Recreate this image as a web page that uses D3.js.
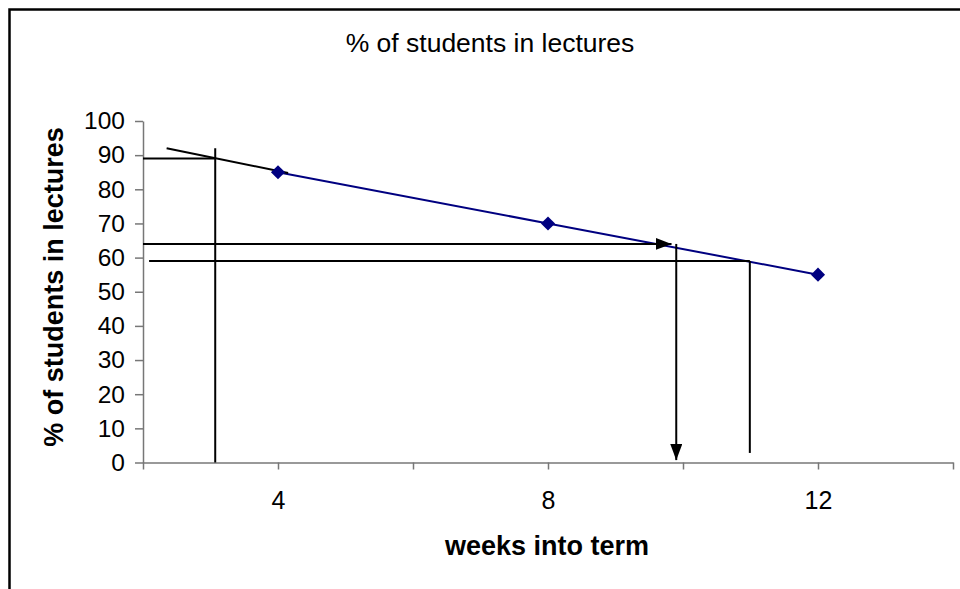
<!DOCTYPE html>
<html>
<head>
<meta charset="utf-8">
<script src="https://cdn.jsdelivr.net/npm/d3@7"></script>
<style>
  html, body { margin: 0; padding: 0; background: #fff; }
  svg { display: block; font-family: "Liberation Sans", Arial, sans-serif; }
</style>
</head>
<body>
<svg id="chart" width="960" height="589"></svg>
<script>
// Attendance observed at weeks 4, 8 and 12
const weeks = [4, 8, 12];
const attendance = [85, 70, 55];

// Axis ticks
const xTickValues = [2, 4, 6, 8, 10, 12, 14];
const xTickLabels = [4, 8, 12];
const yTickValues = [0, 10, 20, 30, 40, 50, 60, 70, 80, 90, 100];

// Hand-drawn reading lines, in (week, %) units
const trendExtension = [[2.35, 92], [4.15, 84.8]];
const readingA = [[[2, 89], [3.07, 89]], [[3.07, 92], [3.07, 0]]];
const readingB = [[[2, 64], [9.83, 64]], [[9.9, 64], [9.9, 0.7]]];
const readingC = [[[2.09, 59], [10.99, 59]], [[10.99, 59], [10.99, 2.8]]];

const svg = d3.select("#chart");

// Outer frame (right and bottom edges fall outside the view)
svg.append("rect")
  .attr("x", 9.5).attr("y", 9.5)
  .attr("width", 1100).attr("height", 700)
  .attr("fill", "none").attr("stroke", "#000").attr("stroke-width", 2.5);

const plot = { left: 143, right: 953, top: 121, bottom: 462.5 };

const x = d3.scaleLinear().domain([2, 14]).range([plot.left, plot.right]);
const y = d3.scaleLinear().domain([0, 100]).range([plot.bottom, plot.top]);

// Title
svg.append("text")
  .attr("x", 490).attr("y", 52)
  .attr("text-anchor", "middle")
  .attr("font-size", 26.5)
  .attr("fill", "#000")
  .text("% of students in lectures");

// Y axis
const yAxis = svg.append("g")
  .attr("transform", `translate(${plot.left},0)`)
  .call(d3.axisLeft(y).tickValues(yTickValues).tickSize(8).tickPadding(10).tickSizeOuter(0));
yAxis.select(".domain").attr("stroke", "#777").attr("stroke-width", 1.5);
yAxis.selectAll(".tick line").attr("stroke", "#777").attr("stroke-width", 1.5);
yAxis.selectAll(".tick text")
  .attr("font-size", 24.5).attr("fill", "#000")
  .attr("font-family", "Liberation Sans, Arial, sans-serif");

// X axis
const xAxis = svg.append("g")
  .attr("transform", `translate(0,${plot.bottom})`)
  .call(d3.axisBottom(x).tickValues(xTickValues).tickSize(7).tickSizeOuter(0)
    .tickFormat(d => xTickLabels.includes(d) ? d : ""));
xAxis.select(".domain").attr("stroke", "#777").attr("stroke-width", 1.5);
xAxis.selectAll(".tick line").attr("stroke", "#777").attr("stroke-width", 1.5);
xAxis.selectAll(".tick text")
  .attr("font-size", 25).attr("fill", "#000")
  .attr("font-family", "Liberation Sans, Arial, sans-serif")
  .attr("y", 29);

// Axis titles
svg.append("text")
  .attr("transform", "translate(63,287) rotate(-90)")
  .attr("text-anchor", "middle")
  .attr("font-size", 27).attr("font-weight", "bold")
  .text("% of students in lectures");

svg.append("text")
  .attr("x", 547).attr("y", 555)
  .attr("text-anchor", "middle")
  .attr("font-size", 27).attr("font-weight", "bold")
  .text("weeks into term");

// Arrowhead marker
const defs = svg.append("defs");
defs.append("marker")
  .attr("id", "arrow")
  .attr("viewBox", "0 0 16 12")
  .attr("refX", 16).attr("refY", 6)
  .attr("markerWidth", 16).attr("markerHeight", 12)
  .attr("markerUnits", "userSpaceOnUse")
  .attr("orient", "auto")
  .append("path").attr("d", "M0,0L16,6L0,12Z").attr("fill", "#000");

const line = d3.line().x(d => x(d[0])).y(d => y(d[1]));

// Data series
const series = weeks.map((w, i) => [w, attendance[i]]);
svg.append("path")
  .datum(series)
  .attr("d", line)
  .attr("fill", "none").attr("stroke", "#000080").attr("stroke-width", 2);

// Reading lines
const drawSeg = (seg, arrow) => {
  const p = svg.append("path")
    .datum(seg)
    .attr("d", line)
    .attr("fill", "none").attr("stroke", "#000").attr("stroke-width", 2);
  if (arrow) p.attr("marker-end", "url(#arrow)");
};
drawSeg(trendExtension, false);
readingA.forEach(s => drawSeg(s, false));
readingB.forEach(s => drawSeg(s, true));
readingC.forEach(s => drawSeg(s, false));

// Diamond markers
svg.append("g").selectAll("path")
  .data(series)
  .join("path")
  .attr("d", d3.symbol(d3.symbolSquare, 100))
  .attr("transform", d => `translate(${x(d[0])},${y(d[1])}) rotate(45)`)
  .attr("fill", "#000080");
</script>
</body>
</html>
